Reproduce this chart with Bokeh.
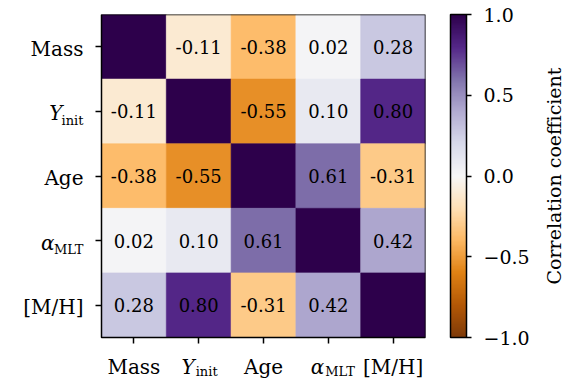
import numpy as np
from bokeh.plotting import figure
from bokeh.models import (ColumnDataSource, Range1d, FixedTicker, LinearColorMapper,
                          ColorBar, Label, CustomJSTickFormatter)
from bokeh.transform import linear_cmap
from bokeh.embed import file_html
from bokeh.resources import INLINE
from bokeh.core.properties import value

# ---- data ----
label_main = ["Mass", "Y", "Age", "α", "[M/H]"]
label_sub = ["", "init", "", "MLT", ""]
label_italic = [False, True, False, True, False]
corr = [
    [1.00, -0.11, -0.38, 0.02, 0.28],
    [-0.11, 1.00, -0.55, 0.10, 0.80],
    [-0.38, -0.55, 1.00, 0.61, -0.31],
    [0.02, 0.10, 0.61, 1.00, 0.42],
    [0.28, 0.80, -0.31, 0.42, 1.00],
]
cbar_ticks = [-1.0, -0.5, 0.0, 0.5, 1.0]
cbar_title = "Correlation coefficient"

# matplotlib PuOr anchors (low -> high)
anchors = ["#7f3b08", "#b35806", "#e08214", "#fdb863", "#fee0b6", "#f7f7f7",
           "#d8daeb", "#b2abd2", "#8073ac", "#542788", "#2d004b"]
def hex2rgb(h):
    return np.array([int(h[i:i + 2], 16) for i in (1, 3, 5)], dtype=float)
arr = np.array([hex2rgb(h) for h in anchors])
xs = np.linspace(0, 1, len(anchors))
t = np.linspace(0, 1, 256)
palette = []
for tt in t:
    rgb = [np.interp(tt, xs, arr[:, k]) for k in range(3)]
    palette.append("#%02x%02x%02x" % tuple(int(round(c)) for c in rgb))

n = len(label_main)

# ---- layout (pixels) ----
W, H = 579, 379
HEAT_L, HEAT_R, HEAT_T, HEAT_B = 101, 425, 14, 337
PXX = (HEAT_R - HEAT_L) / n
PXY = (HEAT_B - HEAT_T) / n
FONT = "DejaVu Serif"
LIFT = 6.5  # baseline correction (px)

cx, cy, cv, ct = [], [], [], []
for i in range(n):
    for j in range(n):
        cx.append(j)
        cy.append(i)
        cv.append(corr[i][j])
        ct.append("" if i == j else f"{corr[i][j]:.2f}")
src = ColumnDataSource(dict(x=cx, y=cy, v=cv, t=ct))

p = figure(width=W, height=H, output_backend="svg", toolbar_location=None,
           x_range=Range1d(-0.5 - HEAT_L / PXX, n - 0.5),
           y_range=Range1d(n - 0.5 + (H - HEAT_B) / PXY, -0.5),
           x_axis_location="above", y_axis_location="right",
           min_border_left=0, min_border_right=W - HEAT_R, min_border_top=HEAT_T,
           min_border_bottom=0)
p.grid.visible = False
p.background_fill_color = "white"
p.border_fill_color = "white"
p.outline_line_color = None

cmap = linear_cmap("v", palette, -1, 1)
p.rect("x", "y", 1, 1, source=src, fill_color=cmap, line_color=cmap, line_width=0.6)
p.rect(x=[(n - 1) / 2], y=[(n - 1) / 2], width=n, height=n, fill_color=None,
       line_color="black", line_width=1.5)
p.text("x", "y", text="t", source=src, text_align="center", text_baseline="middle",
       text_font=value(FONT), text_font_size="18px", text_color="black")

p.xaxis.fixed_location = n - 0.5
p.yaxis.fixed_location = -0.5
for ax in (p.xaxis, p.yaxis):
    ax.ticker = FixedTicker(ticks=list(range(n)))
    ax.major_label_overrides = {k: "" for k in range(n)}
    ax.major_label_text_font_size = "1px"
    ax.minor_tick_line_color = None
    ax.major_tick_in = 6
    ax.major_tick_out = 0
    ax.major_tick_line_width = 1.5
    ax.major_tick_line_color = "black"
    ax.axis_line_color = None
    ax.major_label_standoff = 0

MAIN = "20px"
SUB = "13px"
sub_w = {"init": 21, "MLT": 29}

# left tick labels
lx, ly, lt, lst = [], [], [], []
sx_, sy_, st_ = [], [], []
for i in range(n):
    right = HEAT_L - 18
    base = i + (8.5 - LIFT) / PXY
    if label_sub[i]:
        sx_.append(-0.5 - (HEAT_L - right) / PXX)
        sy_.append(base + 7 / PXY)
        st_.append(label_sub[i])
        right -= sub_w[label_sub[i]]
    lx.append(-0.5 - (HEAT_L - right) / PXX)
    ly.append(base)
    lt.append(label_main[i])
    lst.append("italic" if label_italic[i] else "normal")
p.text(x=lx, y=ly, text=lt, text_font_style=lst, text_align="right",
       text_baseline="alphabetic", text_font=value(FONT), text_font_size=MAIN,
       text_color="black")
p.text(x=sx_, y=sy_, text=st_, text_align="right", text_baseline="alphabetic",
       text_font=value(FONT), text_font_size=SUB, text_color="black")

# bottom tick labels
bbase = n - 0.5 + (35.5 - LIFT) / PXY
c_x, c_t = [], []
m_x, m_t, s_x, s_t = [], [], [], []
for j in range(n):
    if label_sub[j]:
        m_x.append(j - 4 / PXX)
        m_t.append(label_main[j])
        s_x.append(j - 3 / PXX)
        s_t.append(label_sub[j])
    else:
        c_x.append(j)
        c_t.append(label_main[j])
p.text(x=c_x, y=[bbase] * len(c_x), text=c_t, text_align="center",
       text_baseline="alphabetic", text_font=value(FONT), text_font_size=MAIN,
       text_color="black")
p.text(x=m_x, y=[bbase] * len(m_x), text=m_t, text_align="right", text_font_style="italic",
       text_baseline="alphabetic", text_font=value(FONT), text_font_size=MAIN,
       text_color="black")
p.text(x=s_x, y=[bbase + 5 / PXY] * len(s_x), text=s_t, text_align="left",
       text_baseline="alphabetic", text_font=value(FONT), text_font_size=SUB,
       text_color="black")

mapper = LinearColorMapper(palette=palette, low=-1, high=1)
cb = ColorBar(color_mapper=mapper, width=16, height=HEAT_B - HEAT_T, padding=0, margin=0,
              location=(25, H - HEAT_B),
              ticker=FixedTicker(ticks=cbar_ticks),
              formatter=CustomJSTickFormatter(code="return (tick < 0 ? '\\u2212' : '') + Math.abs(tick).toFixed(1);"),
              major_tick_in=0, major_tick_out=5, major_tick_line_color="black",
              major_tick_line_width=1.5, minor_tick_line_color=None,
              bar_line_color="black", bar_line_width=1.5,
              major_label_text_font=FONT, major_label_text_font_size="19px",
              major_label_text_color="black",
              label_standoff=12, border_line_color=None, background_fill_color=None)
p.add_layout(cb, "right")

p.add_layout(Label(x=n - 0.5, y=(n - 1) / 2, x_offset=128, text=cbar_title, angle=np.pi / 2,
                   text_font=FONT, text_font_size="19px", text_align="center",
                   text_baseline="middle", text_color="black"), "right")

open("out.html", "w").write(file_html(p, INLINE))
